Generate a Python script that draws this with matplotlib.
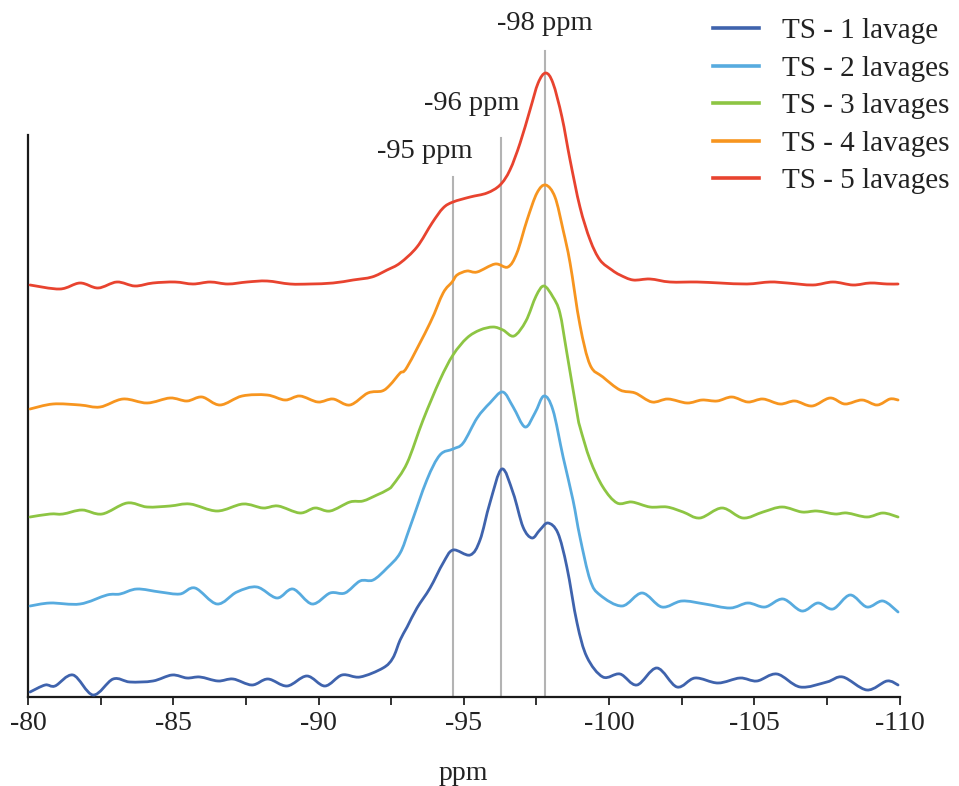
import matplotlib
matplotlib.use("Agg")
import matplotlib.pyplot as plt
from matplotlib.path import Path
from matplotlib.patches import PathPatch
from matplotlib.lines import Line2D
from matplotlib.ticker import MultipleLocator
import numpy as np

plt.rcParams['font.family'] = ['Liberation Serif', 'DejaVu Serif']

# ---------------- data ----------------
series_names = ['TS - 1 lavage', 'TS - 2 lavages', 'TS - 3 lavages',
                'TS - 4 lavages', 'TS - 5 lavages']

ppm_1 = [-80.07, -80.59, -80.93, -81.55, -82.24, -82.93, -83.51, -84.30, -84.96, -85.47,
         -85.92, -86.54, -87.06, -87.71, -88.26, -88.92, -89.60, -90.22, -90.81, -91.43,
         -92.22, -92.56, -92.81, -93.05, -93.39, -93.84, -94.29, -94.63, -95.22, -95.56,
         -95.90, -96.31, -96.70, -97.04, -97.35, -97.62, -97.90, -98.24, -98.55, -98.90,
         -99.24, -99.79, -100.38, -100.96, -101.65, -102.34, -102.96, -103.75, -104.51,
         -105.09, -105.78, -106.58, -107.50, -108.05, -108.88, -109.57, -109.95]
int_1 = [-9, -2, -3, 8, -12, 4, 1, 2, 8, 5,
         6, 2, 4, -2, 4, -3, 7, -3, 8, 6,
         15, 25, 43, 56, 75, 95, 120, 133, 128, 143,
         180, 214, 190, 156, 145, 153, 160, 150, 116, 60,
         26, 6, 9, -2, 15, -4, 5, 0, 5,
         2, 9, -4, 1, 6, -7, 2, -2]

ppm_2 = [-80.07, -80.76, -81.79, -82.72, -83.17, -83.75, -84.54, -85.23, -85.75, -86.51,
         -87.19, -87.88, -88.57, -89.12, -89.78, -90.40, -90.91, -91.43, -91.88, -92.36,
         -92.81, -93.15, -93.73, -94.18, -94.63, -94.98, -95.46, -95.90, -96.34, -96.70,
         -97.11, -97.45, -97.76, -98.07, -98.42, -98.76, -99.00, -99.35, -99.69, -100.45,
         -101.14, -101.82, -102.51, -103.30, -104.17, -104.78, -105.37, -105.99, -106.64,
         -107.19, -107.71, -108.30, -108.88, -109.43, -109.95]
int_2 = [-4, -1, -2, 7, 8, 13, 10, 8, 14, -2,
         10, 15, 4, 13, -2, 9, 9, 21, 22, 34,
         49, 75, 122, 147, 153, 159, 184, 199, 210, 195,
         175, 189, 206, 192, 145, 102, 65, 22, 7, -4,
         9, -5, 1, -2, -6, -1, -5, 3, -9,
         -1, -7, 7, -5, 1, -10]

ppm_3 = [-80.07, -80.76, -81.20, -81.86, -82.55, -83.41, -84.10, -84.89, -85.58, -86.51,
         -87.40, -88.09, -88.61, -89.36, -89.88, -90.40, -91.08, -91.53, -92.01, -92.36,
         -92.56, -93.05, -93.60, -94.18, -94.63, -95.11, -95.56, -96.01, -96.35, -96.73,
         -97.14, -97.49, -97.76, -98.07, -98.31, -98.55, -98.90, -99.00, -99.35, -99.79,
         -100.28, -100.79, -101.41, -102.00, -102.55, -103.13, -103.89, -104.61, -105.30,
         -105.96, -106.64, -107.16, -107.78, -108.19, -108.88, -109.43, -109.95]
int_3 = [-6, -3, -3, 1, -3, 8, 4, 5, 7, 0,
         7, 3, 5, -2, 3, 0, 9, 10, 16, 21,
         26, 48, 91, 131, 156, 173, 181, 184, 181, 175,
         190, 215, 225, 214, 198, 158, 98, 84, 51, 24,
         8, 9, 4, 4, -1, -7, 3, -7, -1,
         4, -1, 0, -3, -2, -6, -2, -6]

ppm_4 = [-80.07, -80.86, -81.79, -82.48, -83.27, -84.10, -84.89, -85.47, -85.99, -86.61,
         -87.37, -88.23, -88.85, -89.36, -89.98, -90.50, -91.08, -91.70, -92.19, -92.46,
         -92.81, -93.05, -93.84, -94.29, -94.60, -94.77, -95.11, -95.46, -96.08, -96.52,
         -96.83, -97.18, -97.52, -97.82, -98.14, -98.42, -98.66, -99.00, -99.35, -99.79,
         -100.38, -100.90, -101.48, -102.03, -102.69, -103.20, -103.72, -104.23, -104.78,
         -105.30, -105.89, -106.40, -106.99, -107.61, -108.12, -108.71, -109.23, -109.67,
         -109.95]
int_4 = [-8, -3, -4, -6, 2, -2, 3, 0, 4, -4,
         5, 6, 1, 5, -1, 2, -4, 8, 10, 16,
         28, 34, 78, 108, 119, 126, 130, 129, 137, 134,
         148, 181, 208, 216, 204, 171, 138, 76, 36, 24,
         11, 8, -1, 2, -2, 1, 0, 4, -1,
         2, -3, 0, -5, 3, -3, 1, -4, 2,
         1]

ppm_5 = [-80.07, -81.10, -81.79, -82.41, -83.06, -83.68, -84.30, -85.06, -85.68, -86.27,
         -86.88, -87.54, -88.23, -89.02, -89.71, -90.50, -91.19, -91.84, -92.36, -92.81,
         -93.39, -93.91, -94.29, -94.63, -95.22, -95.80, -96.25, -96.59, -96.94, -97.28,
         -97.56, -97.82, -98.07, -98.38, -98.66, -99.00, -99.35, -99.69, -100.10, -100.38,
         -100.83, -101.41, -102.10, -103.03, -103.82, -104.75, -105.54, -106.13, -107.02,
         -107.71, -108.40, -108.99, -109.57, -109.95]
int_5 = [-2, -6, 0, -5, 1, -3, 0, 1, -1, 1,
         -1, 1, 2, -1, -1, 0, 3, 6, 13, 20,
         36, 60, 75, 81, 86, 90, 98, 113, 140, 173,
         200, 210, 200, 166, 123, 76, 43, 23, 13, 8,
         3, 4, 1, 1, 0, -1, 1, 0, -2,
         1, -2, 0, -1, -1]

peak_ppm = [-94.64, -96.29, -97.81]
peak_labels = ['-95 ppm', '-96 ppm', '-98 ppm']

x_ticks = [-80, -85, -90, -95, -100, -105, -110]

# ---------------- style / layout ----------------
colors = ['#3F63AD', '#57ABDF', '#8DC543', '#F7951F', '#E8432F']
offsets = [14, 95, 186, 296, 414]          # vertical stacking of the traces
ppms = [ppm_1, ppm_2, ppm_3, ppm_4, ppm_5]
ints = [int_1, int_2, int_3, int_4, int_5]

line_tops = [520, 559, 646]
label_pos = [(-93.67, 545), (-95.28, 593), (-97.80, 674)]

W, H = 959, 786
fig = plt.figure(figsize=(W / 100, H / 100), dpi=100)
ax = fig.add_axes([28 / W, 1 - 697 / H, (899.5 - 28) / W, (697 - 135) / H])


def smooth_path(xs, ys):
    """Excel-like smoothed line through the points (Catmull-Rom as Bezier)."""
    p = np.column_stack([xs, ys]).astype(float)
    n = len(p)
    verts = [p[0]]
    codes = [Path.MOVETO]
    for i in range(n - 1):
        p0 = p[i - 1] if i > 0 else p[i]
        p1 = p[i]
        p2 = p[i + 1]
        p3 = p[i + 2] if i + 2 < n else p[i + 1]
        c1 = p1 + (p2 - p0) / 6.0
        c2 = p2 - (p3 - p1) / 6.0
        verts += [c1, c2, p2]
        codes += [Path.CURVE4] * 3
    return Path(np.array(verts), codes)


# gray reference lines
for pk, top in zip(peak_ppm, line_tops):
    ax.add_line(Line2D([pk, pk], [0, top], color='#b3b3b3', lw=1.5,
                       clip_on=False, zorder=1))
for (lx, ly), txt in zip(label_pos, peak_labels):
    ax.text(lx, ly, txt, ha='center', va='center', fontsize=20.5,
            color='#222222', clip_on=False)

handles = []
for xs, ys, off, c, name in zip(ppms, ints, offsets, colors, series_names):
    yy = np.asarray(ys, float) + off
    patch = PathPatch(smooth_path(xs, yy), facecolor='none', edgecolor=c,
                      lw=2.0, zorder=3, capstyle='round', joinstyle='round',
                      clip_on=False)
    ax.add_patch(patch)
    handles.append(Line2D([], [], color=c, lw=2.6))

ax.set_xlim(-80, -110)
ax.set_ylim(0, 562)

ax.xaxis.set_major_locator(MultipleLocator(5))
ax.xaxis.set_minor_locator(MultipleLocator(2.5))
ax.set_xticks(x_ticks)
ax.set_xticklabels([str(t) for t in x_ticks])
ax.tick_params(axis='x', which='both', direction='out', length=6, width=1.3,
               color='#222222', labelsize=20, pad=4, labelcolor='#222222')
ax.set_yticks([])
ax.set_xlabel('ppm', fontsize=20, color='#222222', labelpad=18)

for s in ['top', 'right']:
    ax.spines[s].set_visible(False)
for s in ['left', 'bottom']:
    ax.spines[s].set_linewidth(1.6)
    ax.spines[s].set_color('#1a1a1a')

leg = fig.legend(handles, series_names, loc='upper left',
                 bbox_to_anchor=(713 / W, 1 - 18 / H), frameon=False,
                 fontsize=21, handlelength=1.58, handletextpad=0.8,
                 labelspacing=0.38, borderpad=0, borderaxespad=0)
for t in leg.get_texts():
    t.set_color('#222222')

fig.savefig('out.png', dpi=100)
